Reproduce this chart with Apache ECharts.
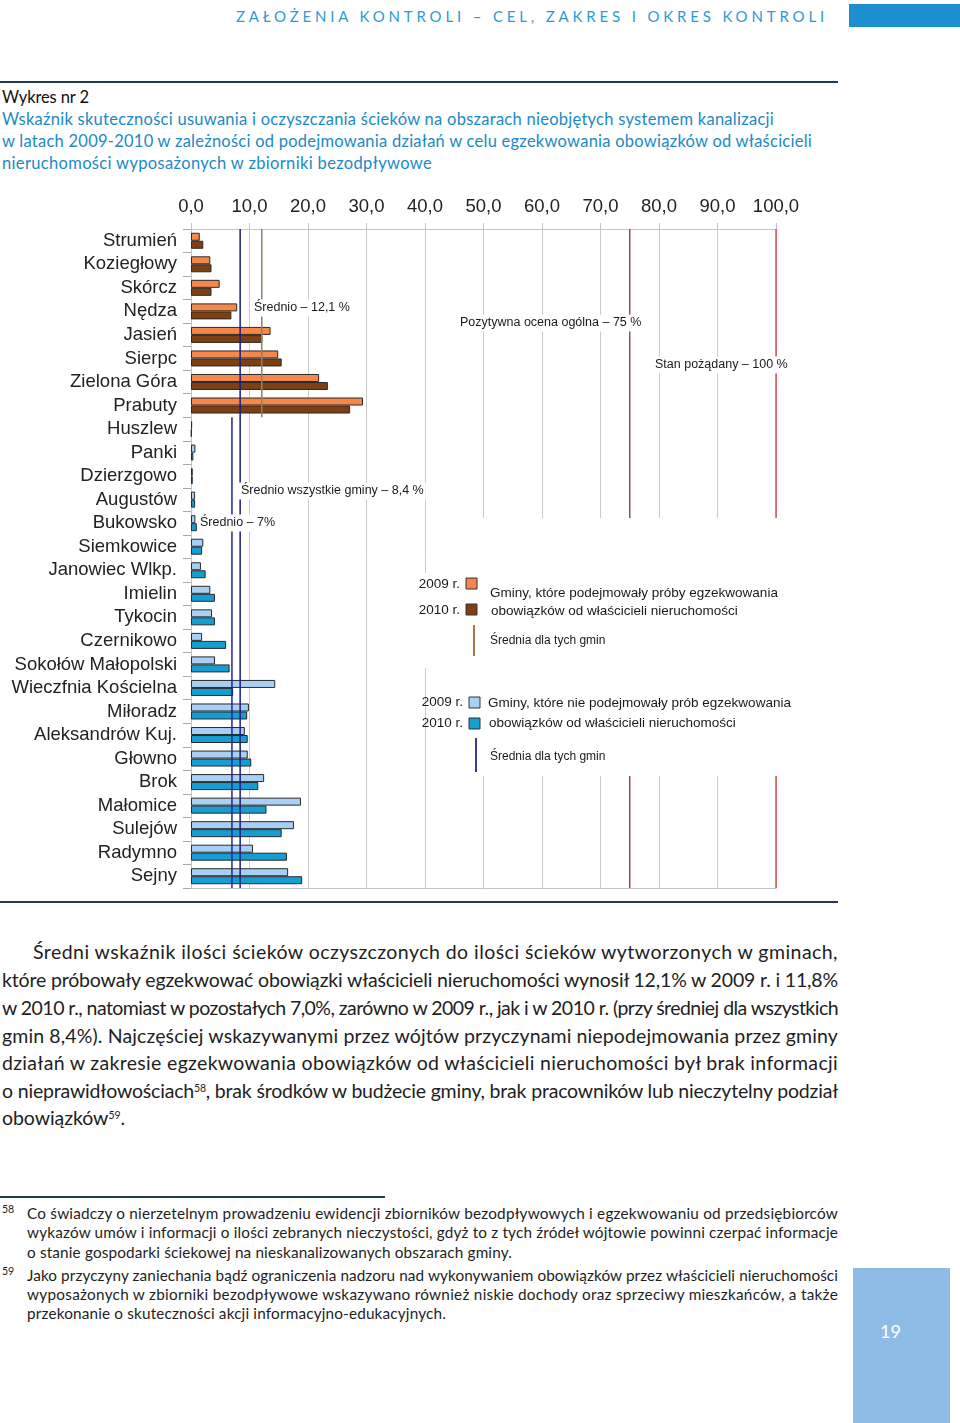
<!DOCTYPE html>
<html><head><meta charset="utf-8">
<script src="https://cdn.jsdelivr.net/npm/echarts@6/dist/echarts.min.js"></script>
<style>
html,body{margin:0;padding:0;background:#fff;}
body{width:960px;height:1423px;position:relative;overflow:hidden;font-family:Lato,"Open Sans",sans-serif;}
.t{position:absolute;white-space:nowrap;display:inline-block;}
.body{font-size:19.5px;line-height:24px;color:#1e1e1e;}
.fn{font-size:15.3px;line-height:18px;color:#1e1e1e;}
.ttl{font-size:16.5px;line-height:20px;color:#2189c6;}
sup{font-size:10.5px;line-height:0;vertical-align:6px;}
#chart{position:absolute;left:0;top:180px;width:960px;height:720px;}
</style></head><body>

<div class="t" data-w="592" style="left:236px;top:7px;font-size:15px;line-height:18px;color:#2d9ad5;">ZAŁOŻENIA KONTROLI – CEL, ZAKRES I OKRES KONTROLI</div>
<div style="position:absolute;left:849px;top:4px;width:111px;height:23px;background:#1b8fd2;"></div>
<div style="position:absolute;left:0;top:81px;width:838px;height:2px;background:#1e3a5a;"></div>

<div class="t" data-w="87" style="left:2px;top:87px;font-size:16.5px;line-height:20px;color:#111;">Wykres nr 2</div>
<div class="t ttl" data-w="772" style="left:2px;top:109px;">Wskaźnik skuteczności usuwania i oczyszczania ścieków na obszarach nieobjętych systemem kanalizacji</div>
<div class="t ttl" data-w="810" style="left:2px;top:131px;">w latach 2009-2010 w zależności od podejmowania działań w celu egzekwowania obowiązków od właścicieli</div>
<div class="t ttl" data-w="430" style="left:2px;top:153px;">nieruchomości wyposażonych w zbiorniki bezodpływowe</div>

<div id="chart"></div>

<div style="position:absolute;left:0;top:901px;width:838px;height:2px;background:#1e3a5a;"></div>

<div class="t body" data-w="805" style="left:33px;top:940px;">Średni wskaźnik ilości ścieków oczyszczonych do ilości ścieków wytworzonych w gminach,</div>
<div class="t body" data-w="836" style="left:2px;top:968px;">które próbowały egzekwować obowiązki właścicieli nieruchomości wynosił 12,1% w 2009 r. i 11,8%</div>
<div class="t body" data-w="836" style="left:2px;top:996px;">w 2010 r., natomiast w pozostałych 7,0%, zarówno w 2009 r., jak i w 2010 r. (przy średniej dla wszystkich</div>
<div class="t body" data-w="836" style="left:2px;top:1024px;">gmin 8,4%). Najczęściej wskazywanymi przez wójtów przyczynami niepodejmowania przez gminy</div>
<div class="t body" data-w="836" style="left:2px;top:1051px;">działań w zakresie egzekwowania obowiązków od właścicieli nieruchomości był brak informacji</div>
<div class="t body" data-w="836" style="left:2px;top:1079px;">o nieprawidłowościach<sup>58</sup>, brak środków w budżecie gminy, brak pracowników lub nieczytelny podział</div>
<div class="t body" data-w="123" style="left:2px;top:1106px;">obowiązków<sup>59</sup>.</div>

<div style="position:absolute;left:0;top:1196px;width:385px;height:1.5px;background:#1e3a5a;"></div>

<div class="t" style="left:2px;top:1203px;font-size:10.5px;line-height:12px;color:#1e1e1e;">58</div>
<div class="t fn" data-w="811" style="left:27px;top:1204px;">Co świadczy o nierzetelnym prowadzeniu ewidencji zbiorników bezodpływowych i egzekwowaniu od przedsiębiorców</div>
<div class="t fn" data-w="811" style="left:27px;top:1223px;">wykazów umów i informacji o ilości zebranych nieczystości, gdyż to z tych źródeł wójtowie powinni czerpać informacje</div>
<div class="t fn" data-w="485" style="left:27px;top:1243px;">o stanie gospodarki ściekowej na nieskanalizowanych obszarach gminy.</div>
<div class="t" style="left:2px;top:1265px;font-size:10.5px;line-height:12px;color:#1e1e1e;">59</div>
<div class="t fn" data-w="811" style="left:27px;top:1266px;">Jako przyczyny zaniechania bądź ograniczenia nadzoru nad wykonywaniem obowiązków przez właścicieli nieruchomości</div>
<div class="t fn" data-w="811" style="left:27px;top:1285px;">wyposażonych w zbiorniki bezodpływowe wskazywano również niskie dochody oraz sprzeciwy mieszkańców, a także</div>
<div class="t fn" data-w="419" style="left:27px;top:1304px;">przekonanie o skuteczności akcji informacyjno-edukacyjnych.</div>

<div style="position:absolute;left:853px;top:1268px;width:97px;height:155px;background:#8fbce6;"></div>
<div class="t" style="left:880px;top:1320px;font-size:18px;line-height:22px;color:#fff;">19</div>

<script>
// ---- data ----
const attemptedNames = ['Strumień','Koziegłowy','Skórcz','Nędza','Jasień','Sierpc','Zielona Góra','Prabuty'];
const attempted2009 = [1.5, 3.3, 4.9, 7.9, 13.6, 14.9, 21.9, 29.4];
const attempted2010 = [2.1, 3.5, 3.5, 6.9, 12.2, 15.5, 23.4, 27.2];
const notAttemptedNames = ['Huszlew','Panki','Dzierzgowo','Augustów','Bukowsko','Siemkowice','Janowiec Wlkp.','Imielin','Tykocin','Czernikowo','Sokołów Małopolski','Wieczfnia Kościelna','Miłoradz','Aleksandrów Kuj.','Głowno','Brok','Małomice','Sulejów','Radymno','Sejny'];
const notAttempted2009 = [0.2, 0.75, 0.3, 0.7, 0.75, 2.1, 1.7, 3.3, 3.6, 1.9, 4.1, 14.4, 9.9, 9.2, 9.7, 12.5, 18.8, 17.6, 10.6, 16.6];
const notAttempted2010 = [0.1, 0.4, 0.3, 0.7, 1.0, 1.9, 2.5, 4.1, 4.1, 6.0, 6.6, 7.2, 9.6, 9.7, 10.3, 11.5, 12.9, 15.5, 16.4, 19.0];
const avgAttempted = 12.1;
const avgAll = 8.4;
const avgNotAttempted = 7.0;
const positiveLevel = 75;
const targetLevel = 100;
const xTicks = {min: 0, max: 100, step: 10};

// ---- build ----
const categories = attemptedNames.concat(notAttemptedNames);
const nA = attemptedNames.length, nN = notAttemptedNames.length, nAll = categories.length;
const blankN = Array(nN).fill('-'), blankA = Array(nA).fill('-');

const barBase = {type: 'bar', barWidth: 8, barGap: '0%', z: 2, silent: true};
const border = {borderColor: '#2a2a2a', borderWidth: 1};
function vline(x, y0, y1, color, w) {
  return {type: 'line', xAxisIndex: 0, yAxisIndex: 1, data: [[x, y0], [x, y1]], symbol: 'none',
    lineStyle: {color: color, width: w}, z: 5, silent: true};
}

const chart = echarts.init(document.getElementById('chart'), null, {renderer: 'canvas'});
const F = '"Liberation Sans", Arial, sans-serif';
function ann(x, y, text) {
  return {type: 'text', x: x, y: y, z: 100, silent: true,
    style: {text: text, x: 0, y: 0, fill: '#1a1a1a', font: '12.5px ' + F, verticalAlign: 'middle', align: 'left', backgroundColor: '#fff', padding: [2, 2]}};
}
function lt(x, y, text, align, size) {
  return {type: 'text', x: x, y: y, z: 110, silent: true,
    style: {text: text, x: 0, y: 0, fill: '#1a1a1a', font: (size || 13.5) + 'px ' + F, verticalAlign: 'middle', align: align || 'left'}};
}
function sq(x, y, color) {
  return {type: 'rect', z: 110, silent: true, shape: {x: x, y: y, width: 11, height: 11}, style: {fill: color, stroke: '#333', lineWidth: 1}};
}
function ll(x, y0, y1, color) {
  return {type: 'line', z: 110, silent: true, shape: {x1: x, y1: y0, x2: x, y2: y1}, style: {stroke: color, lineWidth: 2}};
}
function wbox(x, y, w, h) {
  return {type: 'rect', z: 90, silent: true, shape: {x: x, y: y, width: w, height: h}, style: {fill: '#fff'}};
}

const option = {
  animation: false,
  backgroundColor: '#fff',
  grid: {left: 191, top: 49, width: 585, height: 659},
  xAxis: [
    {type: 'value', position: 'top', min: xTicks.min, max: xTicks.max, interval: xTicks.step,
      axisLine: {show: true, lineStyle: {color: '#c4c4c4'}},
      axisTick: {show: true, length: 6, lineStyle: {color: '#c4c4c4'}},
      axisLabel: {margin: 13, fontFamily: F, fontSize: 18.5, color: '#222', formatter: v => v.toFixed(1).replace('.', ',')},
      splitLine: {show: true, lineStyle: {color: '#cbcbcb'}}},
    {type: 'value', position: 'bottom', min: xTicks.min, max: xTicks.max,
      axisLine: {show: true, lineStyle: {color: '#c4c4c4'}}, axisTick: {show: false}, axisLabel: {show: false}, splitLine: {show: false}}
  ],
  yAxis: [
    {type: 'category', data: categories, inverse: true,
      axisLine: {show: true, lineStyle: {color: '#c4c4c4'}},
      axisTick: {show: true, length: 8, interval: 0, lineStyle: {color: '#aaaaaa'}},
      axisLabel: {margin: 14, interval: 0, fontFamily: F, fontSize: 18.5, color: '#222'}},
    {type: 'value', min: 0, max: nAll, inverse: true, show: false}
  ],
  series: [
    Object.assign({}, barBase, {name: '2009 a', stack: 'y2009', data: attempted2009.concat(blankN), itemStyle: Object.assign({color: '#f5874b'}, border)}),
    Object.assign({}, barBase, {name: '2009 n', stack: 'y2009', data: blankA.concat(notAttempted2009), itemStyle: Object.assign({color: '#a8d0f4'}, border)}),
    Object.assign({}, barBase, {name: '2010 a', stack: 'y2010', data: attempted2010.concat(blankN), itemStyle: Object.assign({color: '#7e3f12'}, border)}),
    Object.assign({}, barBase, {name: '2010 n', stack: 'y2010', data: blankA.concat(notAttempted2010), itemStyle: Object.assign({color: '#159ed2'}, border)}),
    vline(avgAttempted, 0, nA, '#8f8268', 1.5),
    vline(avgAll, 0, nAll, '#1c1c84', 1.5),
    vline(avgNotAttempted, nA, nAll, '#2323a0', 1.5),
    vline(positiveLevel, 0, nAll, '#8c5050', 1.5),
    vline(targetLevel, 0, nAll, '#e3262b', 1.2)
  ],
  graphic: [
    ann(252, 128, 'Średnio – 12,1 %'),
    ann(458, 143, 'Pozytywna ocena ogólna – 75 %'),
    ann(653, 185, 'Stan pożądany – 100 %'),
    ann(239, 311, 'Średnio wszystkie gminy – 8,4 %'),
    ann(198, 343, 'Średnio – 7%'),
    wbox(430, 338, 400, 258),
    wbox(414, 393, 420, 95),
    lt(460, 404, '2009 r.', 'right', 13.5), sq(466, 398, '#f5874b'),
    lt(460, 430, '2010 r.', 'right', 13.5), sq(466, 424, '#7e3f12'),
    lt(490, 413, 'Gminy, które podejmowały próby egzekwowania'),
    lt(491, 431, 'obowiązków od właścicieli nieruchomości'),
    ll(474, 445, 476, '#a07a45'),
    lt(490, 461, 'Średnia dla tych gmin', 'left', 12),
    lt(463, 522, '2009 r.', 'right', 13.5), sq(469, 517, '#a8d0f4'),
    lt(463, 543, '2010 r.', 'right', 13.5), sq(469, 538, '#159ed2'),
    lt(488, 523, 'Gminy, które nie podejmowały prób egzekwowania'),
    lt(489, 543, 'obowiązków od właścicieli nieruchomości'),
    ll(476, 558, 592, '#3c3c96'),
    lt(490, 577, 'Średnia dla tych gmin', 'left', 12)
  ]
};
chart.setOption(option);

function fit() {
  document.querySelectorAll('[data-w]').forEach(el => {
    const T = +el.dataset.w;
    el.style.letterSpacing = '0px';
    const w = el.getBoundingClientRect().width;
    const n = el.textContent.length;
    el.style.letterSpacing = ((T - w) / n) + 'px';
  });
}
fit();
if (document.fonts && document.fonts.ready) document.fonts.ready.then(fit);
</script>
</body></html>
